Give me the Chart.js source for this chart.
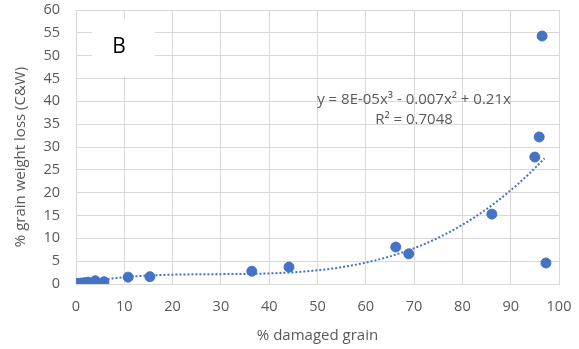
<!DOCTYPE html>
<html>
<head>
<meta charset="utf-8">
<script src="https://cdn.jsdelivr.net/npm/chart.js@4"></script>
<style>
  html, body { margin: 0; padding: 0; background: #fff; }
  #wrap { width: 579px; height: 349px; }
</style>
</head>
<body>
<div id="wrap"><canvas id="myChart" width="579" height="349"></canvas></div>
<script>
// values
var damaged = [0.1, 0.5, 1.0, 1.8, 2.5, 4.0, 5.8, 10.8, 15.3, 36.4, 44.1, 66.2, 68.9, 86.1, 95.0, 95.9, 96.5, 97.3];
var weightLoss = [0.1, 0.1, 0.2, 0.3, 0.4, 0.7, 0.5, 1.5, 1.6, 2.8, 3.7, 8.1, 6.6, 15.3, 27.8, 32.2, 54.3, 4.6];

// trendline as printed on the chart
var trendCoef = [0.21, -0.007, 0.00008]; // x, x^2, x^3
var trendLabel = 'y = 8E-05x\u00B3 - 0.007x\u00B2 + 0.21x';
var r2Label = 'R\u00B2 = 0.7048';
var panelLabel = 'B';

var xTitle = '% damaged grain';
var yTitle = '% grain weight loss (C&W)';

var points = damaged.map((x, i) => ({ x: x, y: weightLoss[i] }));

var trend = [];
for (var x = 0; x <= 97.3; x += 0.5) {
  trend.push({ x: x, y: trendCoef[2] * x * x * x + trendCoef[1] * x * x + trendCoef[0] * x });
}

var grey = '#595959';
var font = "'Open Sans', 'Liberation Sans', sans-serif";

var extras = {
  id: 'extras',
  afterDraw(chart) {
    var ctx = chart.ctx;
    ctx.save();
    // white box with the panel letter
    ctx.fillStyle = '#fff';
    ctx.fillRect(92, 19, 63, 57);
    ctx.fillStyle = '#000';
    ctx.font = '21px ' + font;
    ctx.textAlign = 'center';
    ctx.textBaseline = 'middle';
    ctx.fillText(panelLabel, 119, 47);

    // trendline equation
    ctx.fillStyle = grey;
    ctx.font = '15px ' + font;
    ctx.fillText(trendLabel, 414, 100);
    ctx.fillText(r2Label, 414, 120);

    // y title
    ctx.translate(21, 157);
    ctx.rotate(-Math.PI / 2);
    ctx.fillText(yTitle, 0, 0);
    ctx.restore();
  }
};

function noPad(s) {
  s.paddingTop = 0; s.paddingBottom = 0; s.paddingLeft = 0; s.paddingRight = 0;
}

var ctx = document.getElementById('myChart').getContext('2d');
var chart = new Chart(ctx, {
  type: 'scatter',
  data: {
    datasets: [{
      label: 'data',
      data: points,
      backgroundColor: '#4472C4',
      borderColor: '#4472C4',
      pointRadius: 5,
      pointHoverRadius: 5,
      order: 1
    }, {
      label: 'trend',
      type: 'line',
      data: trend,
      borderColor: '#4472C4',
      borderWidth: 2,
      borderDash: [2, 2],
      pointRadius: 0,
      fill: false,
      tension: 0,
      order: 2
    }]
  },
  options: {
    responsive: false,
    animation: false,
    layout: { padding: { top: 10, right: 20, left: 0, bottom: 0 } },
    plugins: {
      legend: { display: false },
      tooltip: { enabled: false }
    },
    scales: {
      x: {
        type: 'linear',
        min: 0,
        max: 100,
        ticks: { stepSize: 10, color: grey, font: { family: font, size: 14.5 }, padding: 14 },
        grid: { color: '#d9d9d9', drawTicks: false },
        border: { color: '#d9d9d9' },
        title: { display: true, text: xTitle, color: grey, font: { family: font, size: 15 }, padding: { top: 2 } },
        afterFit(s) { s.height = 65; noPad(s); }
      },
      y: {
        min: 0,
        max: 60,
        ticks: { stepSize: 5, color: grey, font: { family: font, size: 14.5 }, padding: 16 },
        grid: { color: '#d9d9d9', drawTicks: false },
        border: { color: '#d9d9d9' },
        afterFit(s) { s.width = 76; noPad(s); }
      }
    }
  },
  plugins: [extras]
});
</script>
</body>
</html>
